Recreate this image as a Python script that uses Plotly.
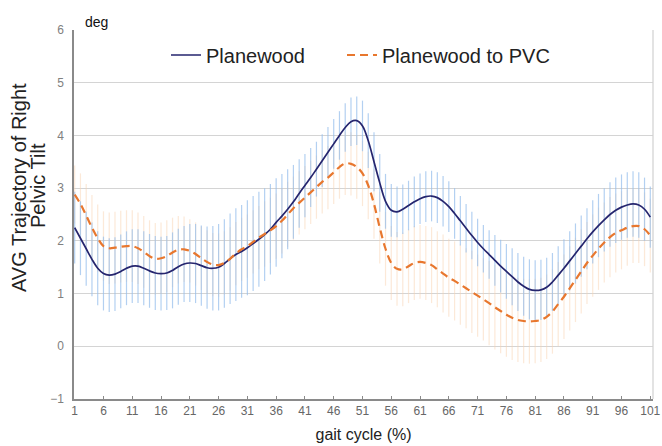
import plotly.graph_objects as go

x_vals = list(range(1, 102))
x_tick_vals = list(range(1, 102, 5))
y_tick_vals = [-1, 0, 1, 2, 3, 4, 5, 6]

planewood = [
    2.25, 2.05, 1.85, 1.65, 1.48, 1.38, 1.35, 1.37, 1.42, 1.48,
    1.52, 1.52, 1.48, 1.43, 1.39, 1.38, 1.39, 1.44, 1.51, 1.56,
    1.58, 1.57, 1.53, 1.49, 1.48, 1.50, 1.57, 1.66, 1.74, 1.80,
    1.87, 1.95, 2.03, 2.12, 2.22, 2.35, 2.47, 2.60, 2.74, 2.90,
    3.05, 3.20, 3.36, 3.52, 3.68, 3.84, 4.00, 4.15, 4.26, 4.28,
    4.18, 3.90, 3.50, 3.10, 2.75, 2.58, 2.55, 2.60, 2.67, 2.74,
    2.80, 2.84, 2.85, 2.82, 2.75, 2.65, 2.52, 2.38, 2.24, 2.10,
    1.97, 1.85, 1.74, 1.63, 1.52, 1.42, 1.32, 1.22, 1.14, 1.08,
    1.06, 1.07, 1.12, 1.22, 1.35, 1.48, 1.62, 1.76, 1.90, 2.04,
    2.17, 2.29, 2.40, 2.50, 2.58, 2.64, 2.68, 2.70, 2.68, 2.60,
    2.45,
]
planewood_sd = [
    0.68, 0.70, 0.70, 0.70, 0.70, 0.70, 0.70, 0.70, 0.70, 0.70,
    0.70, 0.70, 0.70, 0.70, 0.70, 0.70, 0.70, 0.72, 0.72, 0.72,
    0.74, 0.75, 0.76, 0.78, 0.80, 0.82, 0.84, 0.86, 0.88, 0.88,
    0.90, 0.90, 0.90, 0.88, 0.86, 0.84, 0.80, 0.76, 0.70, 0.65,
    0.60, 0.56, 0.52, 0.50, 0.48, 0.47, 0.46, 0.46, 0.46, 0.46,
    0.48, 0.52, 0.56, 0.55, 0.52, 0.50, 0.48, 0.47, 0.47, 0.48,
    0.48, 0.48, 0.48, 0.48, 0.48, 0.48, 0.48, 0.47, 0.46, 0.45,
    0.45, 0.45, 0.46, 0.48, 0.50, 0.52, 0.54, 0.55, 0.56, 0.57,
    0.57, 0.57, 0.56, 0.55, 0.55, 0.55, 0.56, 0.57, 0.58, 0.58,
    0.60, 0.60, 0.60, 0.61, 0.62, 0.62, 0.62, 0.62, 0.62, 0.60,
    0.58,
]
planewood_pvc = [
    2.88, 2.70, 2.48, 2.25, 2.05, 1.90, 1.86, 1.87, 1.89, 1.90,
    1.90, 1.86, 1.79, 1.71, 1.66, 1.67, 1.71, 1.78, 1.83, 1.84,
    1.81, 1.75, 1.67, 1.60, 1.55, 1.54, 1.58, 1.66, 1.76, 1.84,
    1.90, 1.98, 2.06, 2.13, 2.20, 2.28, 2.38, 2.50, 2.62, 2.72,
    2.82, 2.92, 3.02, 3.12, 3.20, 3.30, 3.40, 3.47, 3.46, 3.40,
    3.28, 3.05, 2.70, 2.25, 1.85, 1.58, 1.47, 1.46, 1.52, 1.58,
    1.60, 1.58, 1.54, 1.46, 1.38, 1.30, 1.24, 1.17, 1.10, 1.03,
    0.96, 0.89, 0.82, 0.74, 0.67, 0.60, 0.54, 0.50, 0.48, 0.47,
    0.48, 0.50, 0.56, 0.66, 0.80, 0.94, 1.10, 1.26, 1.42, 1.58,
    1.72, 1.85, 1.97, 2.07, 2.15, 2.20, 2.25, 2.28, 2.28, 2.22,
    2.10,
]
planewood_pvc_sd = [
    0.55, 0.58, 0.60, 0.62, 0.64, 0.66, 0.68, 0.68, 0.68, 0.68,
    0.68, 0.68, 0.68, 0.68, 0.68, 0.68, 0.68, 0.66, 0.64, 0.62,
    0.60, 0.60, 0.60, 0.60, 0.60, 0.60, 0.60, 0.60, 0.60, 0.60,
    0.60, 0.60, 0.60, 0.62, 0.62, 0.62, 0.62, 0.62, 0.60, 0.60,
    0.60, 0.60, 0.60, 0.60, 0.60, 0.60, 0.60, 0.60, 0.60, 0.60,
    0.62, 0.64, 0.66, 0.68, 0.70, 0.70, 0.70, 0.70, 0.70, 0.70,
    0.70, 0.70, 0.72, 0.72, 0.74, 0.74, 0.75, 0.76, 0.76, 0.78,
    0.78, 0.78, 0.80, 0.80, 0.80, 0.80, 0.80, 0.80, 0.80, 0.80,
    0.80, 0.80, 0.80, 0.80, 0.80, 0.80, 0.80, 0.80, 0.80, 0.78,
    0.78, 0.78, 0.76, 0.76, 0.75, 0.74, 0.72, 0.70, 0.70, 0.70,
    0.70,
]

FONT = "Liberation Sans, Arial, sans-serif"
W, H = 662, 446
L, R, T, B = 74, 9, 30, 47
PW = W - L - R
PH = H - T - B


def px_x(px):
    return (px - L) / PW


def px_y(py):
    return (H - B - py) / PH


fig = go.Figure()

# error bars (orange below, blue above)
fig.add_trace(go.Scatter(
    x=x_vals, y=planewood_pvc, mode="markers",
    marker=dict(size=1, color="rgba(0,0,0,0)"),
    error_y=dict(type="data", array=planewood_pvc_sd, symmetric=True,
                 color="rgba(250,212,178,0.5)", thickness=1.2, width=0),
    showlegend=False, hoverinfo="skip",
))
fig.add_trace(go.Scatter(
    x=x_vals, y=planewood, mode="markers",
    marker=dict(size=1, color="rgba(0,0,0,0)"),
    error_y=dict(type="data", array=planewood_sd, symmetric=True,
                 color="rgba(150,190,235,0.72)", thickness=1.2, width=0),
    showlegend=False, hoverinfo="skip",
))

fig.add_trace(go.Scatter(
    x=x_vals, y=planewood, mode="lines", name="Planewood", legend="legend",
    line=dict(color="#25256e", width=1.7, shape="spline"),
))
fig.add_trace(go.Scatter(
    x=x_vals, y=planewood_pvc, mode="lines", name="Planewood to PVC", legend="legend2",
    line=dict(color="#e8772e", width=2.2, dash="8px,5px", shape="spline"),
))

legend_common = dict(orientation="h", yanchor="middle", xanchor="left",
                     font=dict(size=20, color="#222"), bgcolor="rgba(0,0,0,0)",
                     itemwidth=30)

fig.update_layout(
    width=W, height=H,
    margin=dict(l=L, r=R, t=T, b=B, autoexpand=False),
    paper_bgcolor="white", plot_bgcolor="white",
    font=dict(family=FONT, color="#222"),
    showlegend=True,
    legend=dict(x=px_x(166), y=px_y(55), **legend_common),
    legend2=dict(x=px_x(342), y=px_y(55), **legend_common),
    xaxis=dict(
        range=[0.88, 101.47], tickmode="array", tickvals=x_tick_vals,
        ticktext=[str(v) for v in x_tick_vals],
        showgrid=False, zeroline=False, automargin=False,
        showline=True, linecolor="#8a8a8a", linewidth=1.5,
        ticks="inside", ticklen=3, tickcolor="#8a8a8a",
        tickfont=dict(size=12, color="#666"),
        title=dict(text="gait cycle (%)", font=dict(size=16, color="#222"), standoff=12),
    ),
    yaxis=dict(
        range=[-1, 6], tickmode="array", tickvals=y_tick_vals,
        showgrid=True, gridcolor="#d4d4d4", gridwidth=1, zeroline=False, automargin=False,
        showline=True, linecolor="#8a8a8a", linewidth=1.5,
        ticks="", tickfont=dict(size=12, color="#808080"), ticklabelstandoff=6,
    ),
    shapes=[dict(type="line", xref="paper", yref="paper", x0=1, x1=1, y0=0, y1=1,
                 line=dict(color="#d0d0d0", width=1.2))],
    annotations=[
        dict(text="AVG Trajectory of Right", xref="paper", yref="paper",
             x=px_x(19), y=px_y(188), xanchor="center", yanchor="middle", textangle=-90,
             showarrow=False, font=dict(size=20, color="#222")),
        dict(text="Pelvic Tilt", xref="paper", yref="paper",
             x=px_x(38), y=px_y(186), xanchor="center", yanchor="middle", textangle=-90,
             showarrow=False, font=dict(size=20, color="#222")),
        dict(text="deg", xref="paper", yref="paper", x=px_x(83), y=px_y(22), xanchor="left",
             yanchor="middle", showarrow=False, font=dict(size=14, color="#111")),
    ],
)

fig.write_html("out.html",
               config={"displayModeBar": False},
               post_script="document.body.style.margin='0';document.body.style.overflow='hidden';")
